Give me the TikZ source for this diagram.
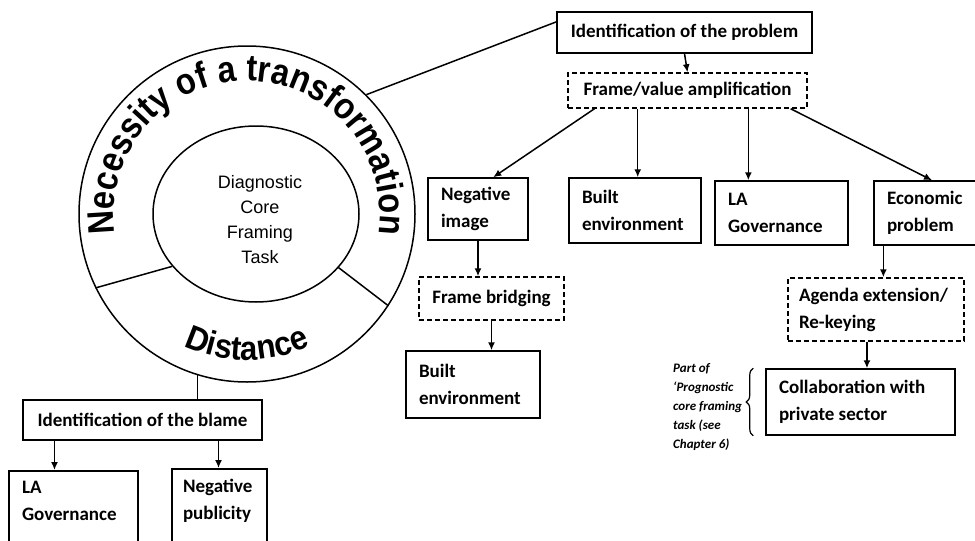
\documentclass[tikz,border=0pt]{standalone}
\usepackage{fontspec}
\usetikzlibrary{shapes.geometric,calc,arrows.meta,decorations.text,decorations.pathreplacing}
\newfontfamily\boxfamily{Carlito}
\newfontfamily\arialfam{Liberation Sans}
\newfontfamily\ringfam{Liberation Sans Bold}[FakeStretch=0.88]
\newfontfamily\distfam{Liberation Sans Bold}[FakeStretch=0.92]
\newcommand\necfont{\ringfam\fontsize{37}{37}\selectfont}
\newcommand\distfont{\distfam\fontsize{34}{34}\selectfont}

\tikzset{
  ln/.style={line width=1.5pt},
  box/.style={draw, line width=1.5pt, inner xsep=13pt, inner ysep=0pt,
    font=\boxfamily\bfseries\fontsize{19}{27}\selectfont},
  lbox/.style={box, align=flush left},
  cbox/.style={box, align=center},
  dbox/.style={dash pattern=on 5pt off 3pt},
  arr/.style={ln, -{Latex[length=8pt,width=7pt]}},
}

\begin{document}
\begin{tikzpicture}[x=1pt,y=-1pt]
\useasboundingbox (0,0) rectangle (975,541);
\clip (0,0) rectangle (975,541);

% ---- circle: diagnostic core framing task ----
\node[circle, draw, ln, minimum size=336pt] (outer) at (247,214) {};
\node[ellipse, draw, ln, minimum width=206pt, minimum height=176pt] (inner) at (256,214) {};
\node[font=\arialfam\fontsize{18}{25}\selectfont, align=center] (core) at (260,220)
  {Diagnostic\\Core\\Framing\\Task};
\draw[ln] (outer.206.7) -- (inner.212);
\draw[ln] (inner.327) -- (outer.327.9);

% ring labels
\path[decorate, decoration={text along path, text align=center,
    text={|\necfont|Necessity of a transformation}}]
  (outer.center) ++(189:133pt) arc[start angle=189, end angle=-9, radius=133pt];
\path[decorate, decoration={text along path, text align=center,
    text={|\distfont|Distance}}]
  (outer.center) ++(230:146pt) arc[start angle=230, end angle=310, radius=146pt];

% ---- problem branch ----
\node[cbox, minimum width=255pt, minimum height=41pt] (prob) at (684.5,32.5) {Identification of the problem};
\node[cbox, dbox, minimum width=239pt, minimum height=35pt] (amp) at (687.5,90.5) {Frame/value amplification};

\node[lbox, text width=74pt, minimum height=62pt] (neg) at (478,209) {Negative\\image};
\node[lbox, text width=106pt, minimum height=65pt] (built1) at (635,210.5) {Built\\environment};
\node[lbox, text width=107pt, minimum height=64pt] (lagov1) at (781.5,213) {LA\\Governance};
\node[lbox, text width=90pt, minimum height=64pt] (econ) at (932,213) {Economic\\problem};

\node[cbox, dbox, minimum width=145pt, minimum height=43pt] (bridge) at (491.5,298.5) {Frame bridging};
\node[lbox, text width=108pt, minimum height=67pt] (built2) at (473,384.5) {Built\\environment};

\node[lbox, dbox, inner xsep=11pt, text width=154pt, minimum height=63pt] (agenda) at (876,309.5) {Agenda extension/\\Re-keying};
\node[lbox, text width=163pt, minimum height=66pt] (collab) at (860.5,402) {Collaboration with\\private sector};

\node[anchor=north west, inner sep=0pt, align=left,
  font=\boxfamily\bfseries\itshape\fontsize{13}{19}\selectfont] (note) at (673,363)
  {Part of\\‘Prognostic\\core framing\\task (see\\Chapter 6)};
\draw[line width=1.2pt, decorate, decoration={brace, amplitude=7pt}]
  ([xshift=-12pt]collab.south west) -- ([xshift=-12pt]collab.north west);

% ---- blame branch ----
\node[cbox, minimum width=239pt, minimum height=40pt] (blame) at (142.5,420) {Identification of the blame};
\node[lbox, anchor=north, text width=103pt, inner ysep=10pt, text depth=80pt] (lagov2) at (73.5,470) {LA\\Governance};
\node[lbox, anchor=north, inner xsep=11pt, text width=73pt, inner ysep=10pt, text depth=80pt] (negpub) at (219.5,468) {Negative\\publicity};

% ---- connector points ----
\coordinate (p1) at ($(prob.north west)!0.25!(prob.south west)$);
\coordinate (a1) at ($(amp.south west)!0.113!(amp.south east)$);
\coordinate (a2) at ($(amp.south west)!0.293!(amp.south east)$);
\coordinate (a3) at ($(amp.south west)!0.753!(amp.south east)$);
\coordinate (a4) at ($(amp.south west)!0.929!(amp.south east)$);
\coordinate (n1) at ($(neg.north west)!0.65!(neg.north east)$);
\coordinate (e1) at ($(econ.south west)!0.086!(econ.south east)$);
\coordinate (g1) at ($(agenda.south west)!0.449!(agenda.south east)$);
\coordinate (b1) at ($(blame.south west)!0.134!(blame.south east)$);
\coordinate (b2) at ($(blame.south west)!0.816!(blame.south east)$);

% ---- connectors ----
\draw[ln] (outer.45) -- (p1);
\draw[arr] (prob.south) -- (amp.north);
\draw[arr] (a1) -- (n1);
\draw[arr] (a2) -- (a2 |- built1.north);
\draw[arr] (a3) -- (a3 |- lagov1.north);
\draw[arr] (a4) -- (econ.north);
\draw[arr] (neg.south) -- (neg.south |- bridge.north);
\draw[arr] (bridge.south) -- (bridge.south |- built2.north);
\draw[arr] (e1) -- (e1 |- agenda.north);
\draw[arr] (g1) -- (g1 |- collab.north);

\draw[ln] (outer.253.8) -- (outer.253.8 |- blame.north);
\draw[arr] (b1) -- (b1 |- lagov2.north);
\draw[arr] (b2) -- (b2 |- negpub.north);
\end{tikzpicture}
\end{document}
